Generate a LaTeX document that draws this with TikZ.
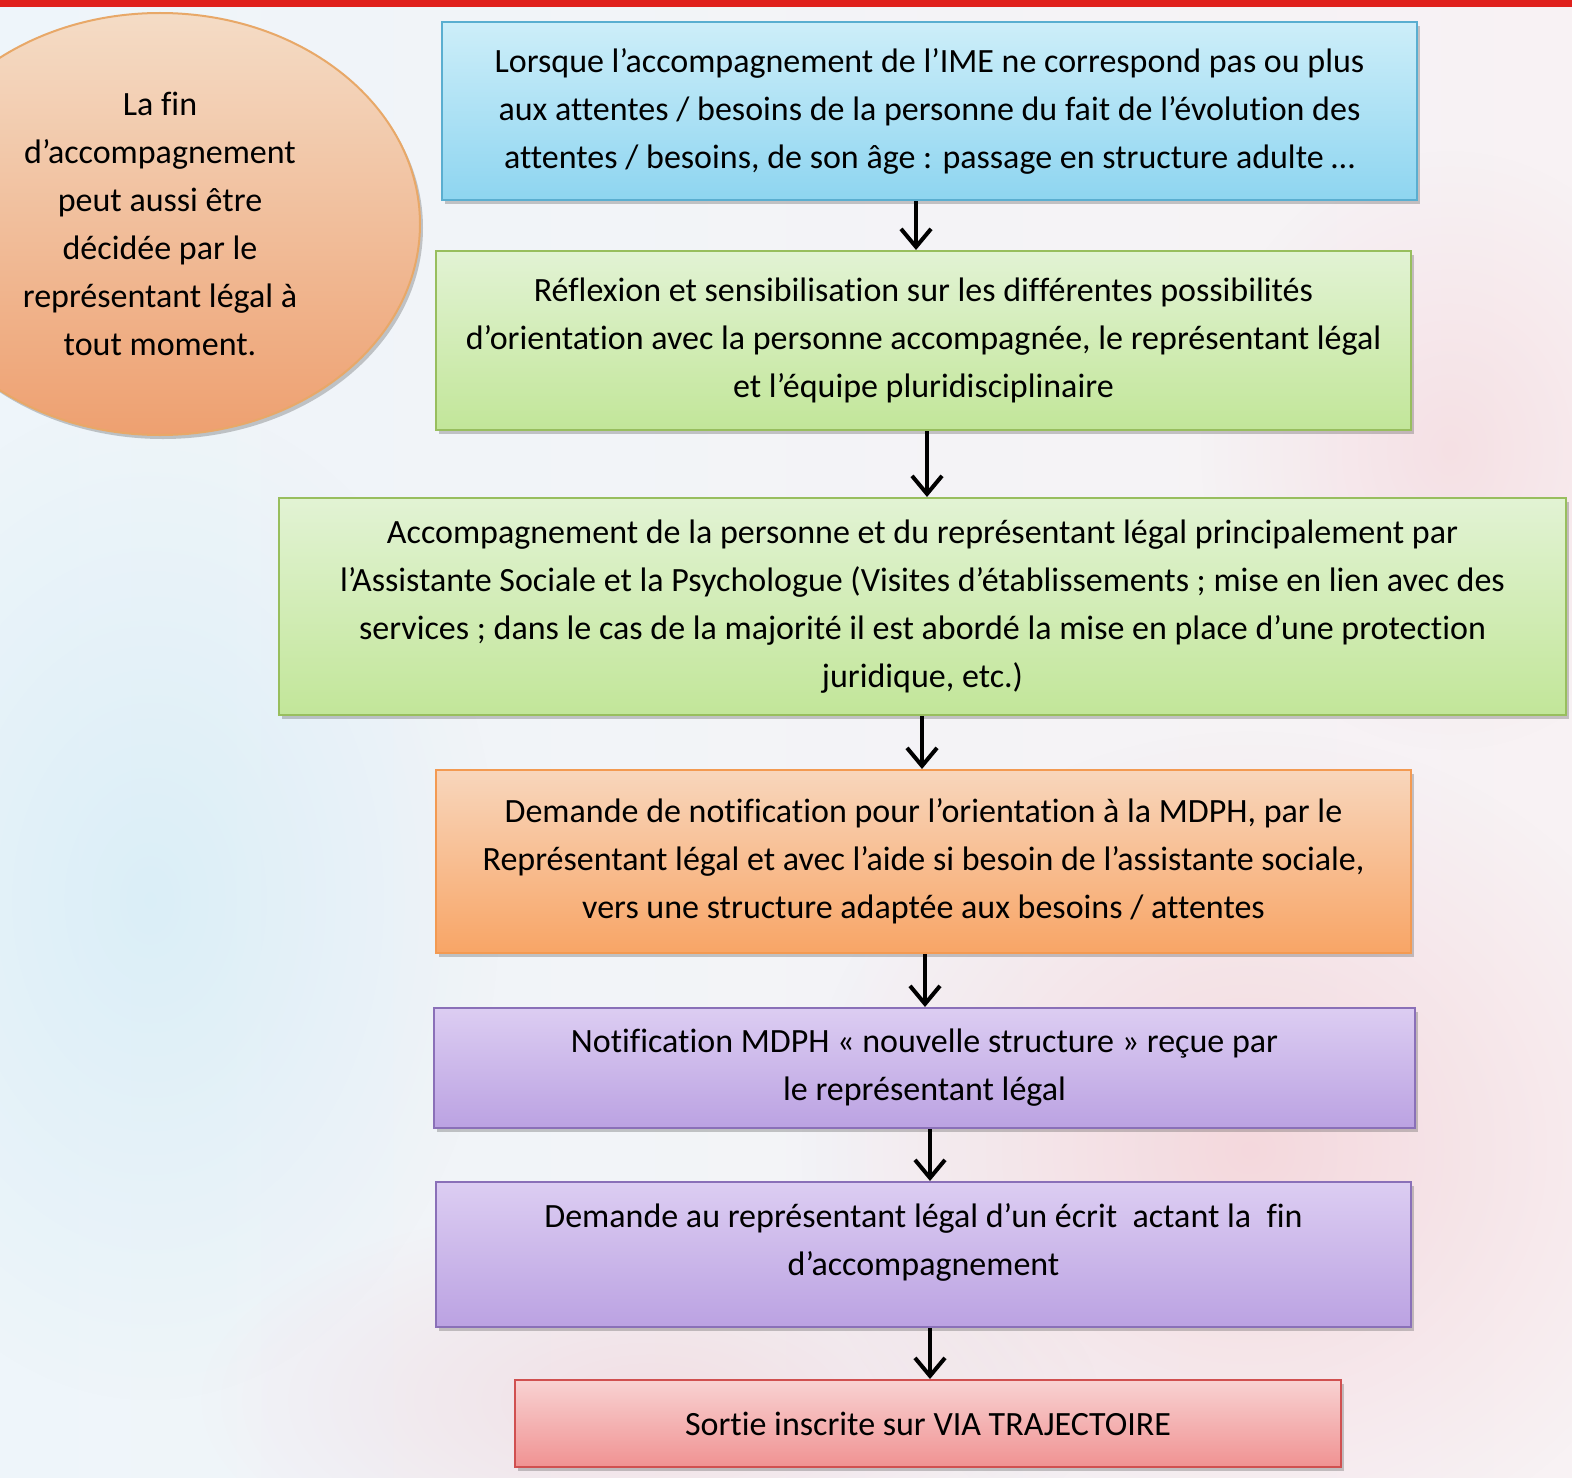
\documentclass[tikz,border=0pt]{standalone}
\usepackage{fontspec}
\setmainfont{Carlito}[Ligatures=NoCommon]
\usetikzlibrary{shapes.geometric,shadows,arrows.meta,fadings}
\definecolor{redbar}{HTML}{E0201C}
\definecolor{bluetop}{HTML}{CDEEF9}
\definecolor{bluebot}{HTML}{8ED5F0}
\definecolor{blueline}{HTML}{5AAED0}
\definecolor{greentop}{HTML}{E2F3D4}
\definecolor{greenbot}{HTML}{C2E699}
\definecolor{greenline}{HTML}{98BE5E}
\definecolor{orangetop}{HTML}{F8D6BC}
\definecolor{orangebot}{HTML}{F8A566}
\definecolor{orangeline}{HTML}{F39A52}
\definecolor{purptop}{HTML}{DCCDF2}
\definecolor{purpbot}{HTML}{BBA2E2}
\definecolor{purpline}{HTML}{8A70B8}
\definecolor{pinktop}{HTML}{F8D2D2}
\definecolor{pinkbot}{HTML}{F09292}
\definecolor{pinkline}{HTML}{D05050}
\definecolor{elltop}{HTML}{F4DCC6}
\definecolor{ellbot}{HTML}{EEA070}
\definecolor{ellline}{HTML}{E8A868}
\definecolor{bgpink}{HTML}{F2B8C0}
\definecolor{bgblue}{HTML}{CDEAF6}
\tikzfading[name=softblob, inner color=transparent!0, outer color=transparent!100]
\tikzset{
  flowbox/.style={rectangle, inner sep=0pt, align=center, line width=1pt,
    font=\fontsize{17}{24}\selectfont,
    drop shadow={shadow xshift=1.5pt, shadow yshift=-2pt, opacity=0.3, fill=black!70}},
  bluebox/.style={flowbox, draw=blueline, top color=bluetop, bottom color=bluebot},
  greenbox/.style={flowbox, draw=greenline, top color=greentop, bottom color=greenbot},
  orangebox/.style={flowbox, draw=orangeline, top color=orangetop, bottom color=orangebot},
  purplebox/.style={flowbox, draw=purpline, top color=purptop, bottom color=purpbot},
  pinkbox/.style={flowbox, draw=pinkline, top color=pinktop, bottom color=pinkbot},
  txt/.style={inner sep=0pt, align=center, font=\fontsize{17}{24}\selectfont},
  arr/.style={line width=2pt, -{Straight Barb[length=9pt,width=15pt,line width=2pt]}},
  blob/.style={path fading=softblob},
}
\begin{document}
\begin{tikzpicture}[x=0.5pt,y=-0.5pt]
% background
\useasboundingbox (0,0) rectangle (1572,1477);
\fill[left color={rgb,255:red,238;green,245;blue,250}, right color={rgb,255:red,248;green,242;blue,244}] (0,0) rectangle (1572,1477);
\fill[bgblue, opacity=0.6, blob] (150,900) ellipse [x radius=350, y radius=500];
\fill[bgpink, opacity=0.45, blob] (1250,1150) ellipse [x radius=450, y radius=420];
\fill[bgpink, opacity=0.35, blob] (650,1400) ellipse [x radius=450, y radius=200];
\fill[bgpink, opacity=0.3, blob] (1450,450) ellipse [x radius=250, y radius=300];
\fill[redbar] (0,0) rectangle (1572,7);
% side ellipse
\node[ellipse, inner sep=0pt, minimum width=260pt, minimum height=211pt, line width=1pt,
  draw=ellline, top color=elltop, bottom color=ellbot, align=center,
  font=\fontsize{17}{24}\selectfont,
  drop shadow={shadow xshift=1.5pt, shadow yshift=-2pt, opacity=0.3, fill=black!70}]
  (ell) at (160,224) {La fin\\d’accompagnement\\peut aussi être\\décidée par le\\représentant légal à\\tout moment.};
% flow boxes
\node[bluebox, minimum width=487.5pt, minimum height=89pt] (b1) at (929.5,111)
  {Lorsque l’accompagnement de l’IME ne correspond pas ou plus\\aux attentes / besoins de la personne du fait de l’évolution des\\attentes / besoins, de son âge : passage en structure adulte …};
\node[greenbox, minimum width=487.5pt, minimum height=89.5pt] (b2) at (923.5,340.5)
  {Réflexion et sensibilisation sur les différentes possibilités\\d’orientation avec la personne accompagnée, le représentant légal\\et l’équipe pluridisciplinaire};
\node[greenbox, minimum width=643.5pt, minimum height=108.5pt] (b3) at (922.5,606.5)
  {Accompagnement de la personne et du représentant légal principalement par\\l’Assistante Sociale et la Psychologue (Visites d’établissements ; mise en lien avec des\\services ; dans le cas de la majorité il est abordé la mise en place d’une protection\\juridique, etc.)};
\node[orangebox, minimum width=487.5pt, minimum height=91.5pt] (b4) at (923.5,861.5)
  {Demande de notification pour l’orientation à la MDPH, par le\\Représentant légal et avec l’aide si besoin de l’assistante sociale,\\vers une structure adaptée aux besoins / attentes};
\node[purplebox, minimum width=490.5pt, minimum height=60pt] (b5) at (924.5,1068)
  {Notification MDPH «~nouvelle structure~» reçue par\\le représentant légal};
\node[purplebox, minimum width=487.5pt, minimum height=72.5pt] (b6) at (923.5,1254.5) {};
\node[txt] (t6) at (923.5,1242)
  {Demande au représentant légal d’un écrit\ \ actant la\ \ fin\\d’accompagnement};
\node[pinkbox, minimum width=413pt, minimum height=43.5pt] (b7) at (928,1423.5)
  {Sortie inscrite sur VIA TRAJECTOIRE};
% arrows
\draw[arr] (b1.south -| 916,0) -- (b2.north -| 916,0);
\draw[arr] (b2.south -| 927,0) -- (b3.north -| 927,0);
\draw[arr] (b3.south -| 922,0) -- (b4.north -| 922,0);
\draw[arr] (b4.south -| 925,0) -- (b5.north -| 925,0);
\draw[arr] (b5.south -| 930,0) -- (b6.north -| 930,0);
\draw[arr] (b6.south -| 930,0) -- (b7.north -| 930,0);
\end{tikzpicture}
\end{document}
